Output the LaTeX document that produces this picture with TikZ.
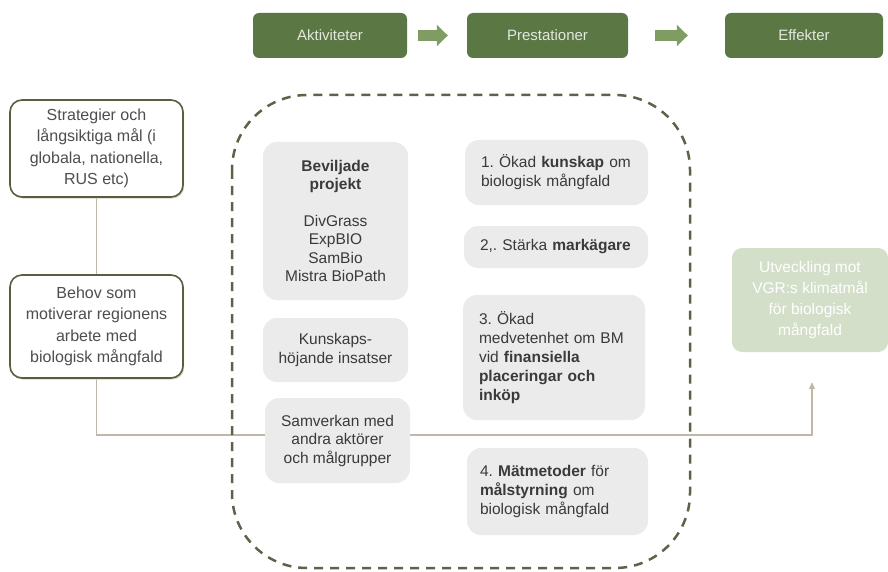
\documentclass[tikz,border=0pt]{standalone}
\usepackage{fontspec}
\setmainfont{Liberation Sans}
\usetikzlibrary{arrows.meta,backgrounds,shadows}
\definecolor{hdrgreen}{HTML}{5A7744}
\definecolor{hdrtext}{HTML}{E4E8E0}
\definecolor{arrowgreen}{HTML}{7F9D63}
\definecolor{olivecol}{HTML}{5E5C40}
\definecolor{greyfill}{HTML}{EBEBEB}
\definecolor{fadedgreen}{HTML}{D3DFC9}
\definecolor{linegrey}{HTML}{BDB8A8}
\definecolor{dashcol}{HTML}{5F6148}
\definecolor{txtgrey}{HTML}{4E4E4E}
\definecolor{txtdark}{HTML}{3A3A3A}
\definecolor{shadowcol}{HTML}{D8D4C4}
\frenchspacing
\begin{document}
\begin{tikzpicture}[x=1pt,y=-1pt,
  hdr/.style={fill=hdrgreen, rounded corners=6pt, text=hdrtext,
    font=\fontsize{15}{18}\selectfont, minimum height=45pt, inner sep=0pt},
  blockarrow/.style={arrowgreen, line width=11pt,
    -{Triangle[length=11pt,width=21pt]}},
  leftbox/.style={draw=olivecol, line width=1.6pt, fill=white, rounded corners=12pt,
    align=center, text=txtgrey, font=\fontsize{16}{21.5}\selectfont,
    inner sep=0pt, minimum width=173pt,
    drop shadow={shadow xshift=1.2pt, shadow yshift=-1.6pt, fill=shadowcol, opacity=1}},
  greyc/.style={fill=greyfill, rounded corners=14pt, text=txtdark,
    font=\fontsize{15.5}{18.5}\selectfont, inner sep=0pt, align=center},
  greyl/.style={fill=greyfill, rounded corners=14pt, text=txtdark,
    font=\fontsize{15.5}{19}\selectfont, inner xsep=16pt, inner ysep=0pt,
    align=left},
  faded/.style={fill=fadedgreen, rounded corners=10pt, text=white,
    font=\fontsize{15.5}{21}\selectfont, align=center, inner sep=0pt},
  conn/.style={linegrey, line width=1.1pt}
]
\useasboundingbox (0,0) rectangle (888,572);

% header
\node[hdr, minimum width=154pt] (akt) at (330,35.5) {Aktiviteter};
\node[hdr, minimum width=161pt] (pre) at (547.5,35.5) {Prestationer};
\node[hdr, minimum width=158pt] (eff) at (804,35.5) {Effekter};
\draw[blockarrow, shorten <=11pt, shorten >=19pt] (akt.east) -- (pre.west);
\draw[blockarrow, shorten <=27pt, shorten >=37pt] (pre.east) -- (eff.west);

% left boxes
\node[leftbox, minimum height=97pt] (strat) at (96.5,148.5)
  {Strategier och\\långsiktiga mål (i\\globala, nationella,\\RUS etc)};
\node[leftbox, minimum height=103pt] (behov) at (96.5,326.5)
  {Behov som\\motiverar regionens\\arbete med\\biologisk mångfald};

% dashed frame
\draw[dashcol, line width=2.5pt, dash pattern=on 9pt off 7pt, rounded corners=75pt]
  (232,95) rectangle (690,568);

% activity boxes
\node[greyc, minimum width=145pt, minimum height=158pt] (bev) at (335.5,221)
  {\textbf{Beviljade}\\\textbf{projekt}\\[18pt]DivGrass\\ExpBIO\\SamBio\\Mistra BioPath};
\node[greyc, minimum width=145pt, minimum height=64pt] (kun) at (335.5,350)
  {Kunskaps-\\höjande insatser};
\node[greyc, minimum width=145pt, minimum height=85pt] (sam) at (337.5,440.5)
  {Samverkan med\\andra aktörer\\och målgrupper};

% output boxes
\node[greyl, text width=151pt, minimum height=65pt] (r1) at (556.5,172.5)
  {1. Ökad \textbf{kunskap} om\\biologisk mångfald};
\node[greyl, text width=152pt, minimum height=42pt] (r2) at (556,247)
  {2,. Stärka \textbf{markägare}};
\node[greyl, text width=150pt, minimum height=125pt] (r3) at (554,357.5)
  {3. Ökad\\medvetenhet om BM\\vid \textbf{finansiella}\\\textbf{placeringar och}\\\textbf{inköp}};
\node[greyl, text width=155pt, minimum height=87pt, inner xsep=13pt] (r4) at (557.5,491.5)
  {4. \textbf{Mätmetoder} för\\\textbf{målstyrning} om\\biologisk mångfald};

% effect box
\node[faded, minimum width=156pt, minimum height=104pt] (goal) at (810,300)
  {Utveckling mot\\VGR:s klimatmål\\för biologisk\\mångfald};

% connectors
\coordinate (turn) at (812,435);
\begin{scope}[on background layer]
\draw[conn] (strat.south) -- (behov.north);
\draw[conn, -{Triangle[length=7pt,width=6pt]}, shorten >=30pt]
  (behov.south) |- (turn) -- (turn |- goal.south);
\end{scope}
\end{tikzpicture}
\end{document}
